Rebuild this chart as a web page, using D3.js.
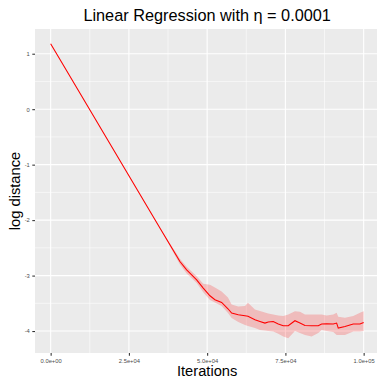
<!DOCTYPE html>
<html>
<head>
<meta charset="utf-8">
<script src="https://cdn.jsdelivr.net/npm/d3@7"></script>
<style>
  body { margin: 0; background: #fff; }
  text { font-family: "Liberation Sans", Arial, sans-serif; }
</style>
</head>
<body>
<script>
// values
var iterations = [0, 35000, 41300, 43450, 46650, 48750, 50900, 52490, 54630, 56650,
  57830, 59940, 62080, 63040, 65270, 66870, 68470, 69520, 71120, 72720,
  74310, 75910, 78050, 79650, 81250, 83390, 85500, 86580, 88180, 90290,
  91370, 91890, 94030, 96680, 98820, 100000];
var logDist = [1.18, -2.15, -2.746, -2.895, -3.076, -3.225, -3.364, -3.436, -3.485, -3.598,
  -3.676, -3.706, -3.724, -3.733, -3.796, -3.827, -3.856, -3.838, -3.827, -3.874,
  -3.905, -3.905, -3.814, -3.856, -3.899, -3.905, -3.905, -3.874, -3.868, -3.874,
  -3.856, -3.946, -3.917, -3.874, -3.874, -3.845];
var upper = [1.18, -2.15, -2.695, -2.842, -3.010, -3.145, -3.166, -3.215, -3.285, -3.395,
  -3.52, -3.555, -3.55, -3.49, -3.61, -3.64, -3.665, -3.685, -3.70, -3.72,
  -3.73, -3.70, -3.645, -3.65, -3.70, -3.70, -3.70, -3.70, -3.72, -3.70,
  -3.67, -3.74, -3.76, -3.73, -3.67, -3.645];
var lower = [1.18, -2.15, -2.80, -2.962, -3.135, -3.30, -3.44, -3.487, -3.55, -3.675,
  -3.765, -3.837, -3.89, -3.91, -3.945, -3.98, -3.99, -4.0, -4.01, -4.05,
  -4.10, -4.13, -4.0, -4.035, -4.07, -4.10, -4.035, -3.98, -4.0, -4.015,
  -4.07, -4.07, -4.07, -4.01, -4.01, -4.0];

var xTicks = [0, 25000, 50000, 75000, 100000];
var xTickLabels = ["0.0e+00", "2.5e+04", "5.0e+04", "7.5e+04", "1.0e+05"];
var xMinor = [12500, 37500, 62500, 87500];
var yTicks = [-4, -3, -2, -1, 0, 1];
var yMinor = [-3.5, -2.5, -1.5, -0.5, 0.5];

var W = 377, H = 378;
var panel = { left: 35, top: 29, bottom: 353 };

var data = iterations.map(function(d, i) {
  return { x: d, y: logDist[i], hi: upper[i], lo: lower[i] };
});

var svg = d3.select("body").append("svg")
  .attr("width", W)
  .attr("height", H);

// ggplot style 5% expansion
var xExt = d3.extent(iterations);
var xPad = (xExt[1] - xExt[0]) * 0.05;
var yExt = [d3.min(lower), d3.max(upper)];
var yPad = (yExt[1] - yExt[0]) * 0.05;

var x = d3.scaleLinear().domain([xExt[0] - xPad, xExt[1] + xPad]);
// panel runs past the right edge of the picture
var xr = 313 * 1.1;
x.range([panel.left, panel.left + xr]);
var y = d3.scaleLinear()
  .domain([yExt[0] - yPad, yExt[1] + yPad])
  .range([panel.bottom, panel.top]);

svg.append("rect")
  .attr("x", panel.left)
  .attr("y", panel.top)
  .attr("width", xr)
  .attr("height", panel.bottom - panel.top)
  .attr("fill", "#EBEBEB");

var grid = svg.append("g");
grid.selectAll(".xmin").data(xMinor).enter().append("line")
  .attr("x1", function(d) { return x(d); }).attr("x2", function(d) { return x(d); })
  .attr("y1", panel.top).attr("y2", panel.bottom)
  .attr("stroke", "#fff").attr("stroke-width", 0.55);
grid.selectAll(".ymin").data(yMinor).enter().append("line")
  .attr("x1", panel.left).attr("x2", panel.left + xr)
  .attr("y1", function(d) { return y(d); }).attr("y2", function(d) { return y(d); })
  .attr("stroke", "#fff").attr("stroke-width", 0.55);
grid.selectAll(".xmaj").data(xTicks).enter().append("line")
  .attr("x1", function(d) { return x(d); }).attr("x2", function(d) { return x(d); })
  .attr("y1", panel.top).attr("y2", panel.bottom)
  .attr("stroke", "#fff").attr("stroke-width", 1.1);
grid.selectAll(".ymaj").data(yTicks).enter().append("line")
  .attr("x1", panel.left).attr("x2", panel.left + xr)
  .attr("y1", function(d) { return y(d); }).attr("y2", function(d) { return y(d); })
  .attr("stroke", "#fff").attr("stroke-width", 1.1);

var area = d3.area()
  .x(function(d) { return x(d.x); })
  .y0(function(d) { return y(d.lo); })
  .y1(function(d) { return y(d.hi); });
svg.append("path")
  .datum(data)
  .attr("d", area)
  .attr("fill", "red")
  .attr("fill-opacity", 0.2);

var line = d3.line()
  .x(function(d) { return x(d.x); })
  .y(function(d) { return y(d.y); });
svg.append("path")
  .datum(data)
  .attr("d", line)
  .attr("fill", "none")
  .attr("stroke", "#FF0000")
  .attr("stroke-width", 1.07);

// axes
svg.append("g")
  .attr("transform", "translate(0," + panel.bottom + ")")
  .call(d3.axisBottom(x).tickValues(xTicks).tickSize(2.7).tickPadding(3)
    .tickFormat(function(d, i) { return xTickLabels[i]; }));
svg.append("g")
  .attr("transform", "translate(" + panel.left + ",0)")
  .call(d3.axisLeft(y).tickValues(yTicks).tickSize(2.7).tickPadding(2.5)
    .tickFormat(function(d) { return d < 0 ? "-" + Math.abs(d) : d; }));
svg.selectAll(".domain").remove();
svg.selectAll(".tick line").attr("stroke", "#333333").attr("stroke-width", 1.07);
svg.selectAll(".tick text")
  .attr("fill", "#4D4D4D")
  .style("font-size", "5.8px")
  .style("font-family", "'Liberation Sans', Arial, sans-serif");

var cx = panel.left + xr / 2;
svg.append("text")
  .attr("x", cx)
  .attr("y", 376)
  .attr("text-anchor", "middle")
  .style("font-size", "14.7px")
  .text("Iterations");

svg.append("text")
  .attr("transform", "translate(20," + ((panel.top + panel.bottom) / 2) + ") rotate(-90)")
  .attr("text-anchor", "middle")
  .style("font-size", "14.7px")
  .text("log distance");

svg.append("text")
  .attr("x", cx)
  .attr("y", 20.5)
  .attr("text-anchor", "middle")
  .style("font-size", "16.3px")
  .text("Linear Regression with \u03B7 = 0.0001");
</script>
</body>
</html>
